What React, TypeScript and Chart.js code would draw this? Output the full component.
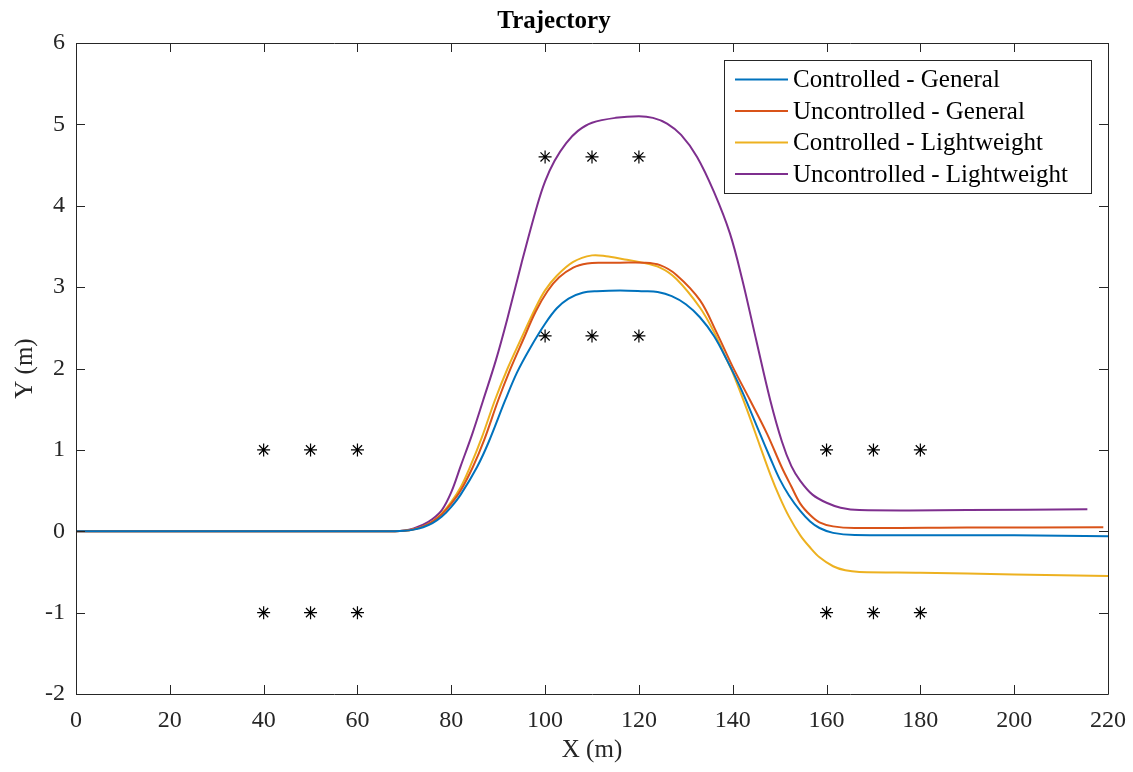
import React, { useEffect, useRef } from "react";
import { Chart, registerables } from "chart.js";

Chart.register(...registerables);

// Controlled - General
const cgX = [0, 68, 70, 72, 74, 76, 78, 80, 82, 85.5, 88, 91.5, 94, 96.8, 100, 102.5, 105, 108, 111, 116, 121, 124, 127, 130, 133, 136, 138.8, 142, 145.8, 148, 150, 152, 154.4, 156.5, 158.5, 161.4, 166, 200, 220];
const cgY = [0, 0, 0.005, 0.02, 0.05, 0.1, 0.18, 0.3, 0.45, 0.79, 1.1, 1.61, 1.95, 2.25, 2.55, 2.74, 2.86, 2.93, 2.95, 2.96, 2.95, 2.94, 2.89, 2.79, 2.63, 2.4, 2.1, 1.72, 1.2, 0.9, 0.64, 0.44, 0.25, 0.12, 0.04, -0.02, -0.045, -0.05, -0.06];

// Uncontrolled - General
const ugX = [0, 68, 70, 72, 74, 76, 78, 80, 82, 84.6, 87, 90, 92.5, 95.3, 98, 100.5, 103, 106, 109, 112, 116, 121, 124.5, 128, 133, 136.5, 140, 143.7, 147.3, 150.5, 152.5, 154.4, 156.5, 158.5, 161.4, 166, 190, 219];
const ugY = [0, 0, 0.005, 0.025, 0.06, 0.12, 0.21, 0.34, 0.5, 0.79, 1.12, 1.61, 1.98, 2.35, 2.7, 2.95, 3.12, 3.24, 3.29, 3.3, 3.3, 3.3, 3.27, 3.15, 2.84, 2.45, 2.02, 1.61, 1.2, 0.78, 0.55, 0.34, 0.2, 0.11, 0.06, 0.04, 0.045, 0.05];

// Controlled - Lightweight
const clX = [0, 68, 70, 72, 74, 76, 78, 80, 82, 84, 86.5, 89.3, 92, 94.6, 98, 100, 102.5, 106, 110, 113, 117, 120, 124.5, 128, 133, 136, 138.8, 140, 143, 145.8, 148, 150, 152, 154.4, 156.5, 158.5, 161.4, 164, 167, 180, 200, 220];
const clY = [0, 0, 0.005, 0.025, 0.06, 0.12, 0.22, 0.36, 0.54, 0.79, 1.15, 1.61, 2.0, 2.33, 2.75, 2.96, 3.14, 3.31, 3.39, 3.38, 3.34, 3.31, 3.24, 3.1, 2.75, 2.45, 2.1, 1.95, 1.5, 1.05, 0.7, 0.42, 0.18, -0.05, -0.2, -0.32, -0.43, -0.48, -0.5, -0.51, -0.53, -0.55];

// Uncontrolled - Lightweight
const ulX = [0, 68, 70, 72, 74, 76, 78, 80, 82, 84.5, 86.8, 89.5, 91.9, 95, 98.3, 100, 102, 104.5, 107, 110, 115, 120, 123, 126, 129, 132.4, 136, 139.4, 142, 145, 148, 150.5, 152.5, 154.4, 157, 160, 163, 167, 190, 215.6];
const ulY = [0, 0, 0.008, 0.035, 0.08, 0.15, 0.26, 0.48, 0.8, 1.2, 1.61, 2.1, 2.6, 3.3, 4.0, 4.3, 4.55, 4.77, 4.92, 5.02, 5.08, 5.1, 5.08, 5.01, 4.87, 4.6, 4.17, 3.66, 3.1, 2.35, 1.61, 1.1, 0.8, 0.62, 0.45, 0.35, 0.29, 0.26, 0.26, 0.27];

// Obstacle markers (*)
const obsX = [40, 50, 60, 40, 50, 60, 100, 110, 120, 100, 110, 120, 160, 170, 180, 160, 170, 180];
const obsY = [1, 1, 1, -1, -1, -1, 4.6, 4.6, 4.6, 2.4, 2.4, 2.4, 1, 1, 1, -1, -1, -1];

const seriesNames = [
  "Controlled - General",
  "Uncontrolled - General",
  "Controlled - Lightweight",
  "Uncontrolled - Lightweight",
];
const seriesColors = ["#0072BD", "#D95319", "#EDB120", "#7E2F8E"];

const xTicks = [0, 20, 40, 60, 80, 100, 120, 140, 160, 180, 200, 220];
const yTicks = [-2, -1, 0, 1, 2, 3, 4, 5, 6];

const FONT = "'Liberation Serif', 'Times New Roman', serif";
const AXIS_COLOR = "#262626";

export default function App() {
  const ref = useRef<HTMLCanvasElement>(null);

  useEffect(() => {
    if (!ref.current) return;
    const toPts = (xs: number[], ys: number[]) => xs.map((x, i) => ({ x, y: ys[i] }));
    const seriesX = [cgX, ugX, clX, ulX];
    const seriesY = [cgY, ugY, clY, ulY];

    const boxPlugin = {
      id: "matlabBox",
      afterDraw(chart: any) {
        const { ctx, chartArea } = chart;
        const { left, right, top, bottom } = chartArea;
        const xs = chart.scales.x;
        const ys = chart.scales.y;
        const tl = 9;
        ctx.save();
        ctx.strokeStyle = AXIS_COLOR;
        ctx.lineWidth = 1;
        ctx.beginPath();
        ctx.rect(Math.round(left) + 0.5, Math.round(top) + 0.5, Math.round(right - left), Math.round(bottom - top));
        ctx.stroke();
        ctx.beginPath();
        for (const t of xTicks) {
          const px = Math.round(xs.getPixelForValue(t)) + 0.5;
          ctx.moveTo(px, bottom);
          ctx.lineTo(px, bottom - tl);
          ctx.moveTo(px, top);
          ctx.lineTo(px, top + tl);
        }
        for (const t of yTicks) {
          const py = Math.round(ys.getPixelForValue(t)) + 0.5;
          ctx.moveTo(left, py);
          ctx.lineTo(left + tl, py);
          ctx.moveTo(right, py);
          ctx.lineTo(right - tl, py);
        }
        ctx.stroke();

        // legend
        const lx = 724, ly = 60, lw = 367, lh = 133;
        ctx.fillStyle = "#ffffff";
        ctx.fillRect(lx, ly, lw, lh);
        ctx.strokeStyle = AXIS_COLOR;
        ctx.strokeRect(lx + 0.5, ly + 0.5, lw, lh);
        ctx.font = `25px ${FONT}`;
        ctx.textBaseline = "middle";
        ctx.textAlign = "left";
        const rowY = [79.5, 111, 142.5, 174];
        seriesNames.forEach((name, i) => {
          ctx.strokeStyle = seriesColors[i];
          ctx.lineWidth = 2;
          ctx.beginPath();
          ctx.moveTo(735, rowY[i]);
          ctx.lineTo(788, rowY[i]);
          ctx.stroke();
          ctx.fillStyle = "#000000";
          ctx.fillText(name, 793, rowY[i] + 1);
        });
        ctx.restore();
      },
    };

    const datasets: any[] = seriesNames.map((name, i) => ({
      label: name,
      data: toPts(seriesX[i], seriesY[i]),
      showLine: true,
      borderColor: seriesColors[i],
      backgroundColor: seriesColors[i],
      borderWidth: 2,
      pointRadius: 0,
      pointHoverRadius: 0,
      tension: 0.35,
      fill: false,
    }));
    datasets.push({
      label: "Obstacles",
      data: toPts(obsX, obsY),
      showLine: false,
      pointStyle: "star",
      pointRadius: 6.5,
      borderColor: "#000000",
      backgroundColor: "#000000",
      borderWidth: 1.2,
    });

    const chart = new Chart(ref.current, {
      type: "scatter",
      data: { datasets },
      options: {
        animation: false,
        responsive: true,
        maintainAspectRatio: false,
        layout: { padding: { left: 0, right: 25, top: 0, bottom: 0 } },
        plugins: {
          legend: { display: false },
          tooltip: { enabled: false },
          title: {
            display: true,
            text: "Trajectory",
            color: "#000000",
            font: { family: FONT, size: 25, weight: "bold", lineHeight: 1.2 },
            padding: { top: 7, bottom: 6 },
          },
        },
        scales: {
          x: {
            type: "linear",
            min: 0,
            max: 220,
            afterFit(scale: any) {
              scale.height = 78;
              scale.paddingLeft = 0;
              scale.paddingRight = 0;
            },
            afterBuildTicks(scale: any) {
              scale.ticks = xTicks.map((v) => ({ value: v }));
            },
            grid: { display: false, drawTicks: false },
            border: { display: false },
            ticks: {
              color: AXIS_COLOR,
              font: { family: FONT, size: 24 },
              padding: 12,
              maxRotation: 0,
              autoSkip: false,
            },
            title: {
              display: true,
              text: "X (m)",
              color: AXIS_COLOR,
              font: { family: FONT, size: 25, lineHeight: 1.2 },
              padding: { top: 0, bottom: 7 },
            },
          },
          y: {
            type: "linear",
            min: -2,
            max: 6,
            afterFit(scale: any) {
              scale.width = 76;
              scale.paddingTop = 0;
              scale.paddingBottom = 0;
            },
            afterBuildTicks(scale: any) {
              scale.ticks = yTicks.map((v) => ({ value: v }));
            },
            grid: { display: false, drawTicks: false },
            border: { display: false },
            ticks: {
              color: AXIS_COLOR,
              font: { family: FONT, size: 24 },
              padding: 11,
              autoSkip: false,
            },
            title: {
              display: true,
              text: "Y (m)",
              color: AXIS_COLOR,
              font: { family: FONT, size: 25, lineHeight: 1.2 },
              padding: { top: 10, bottom: 0 },
            },
          },
        },
      },
      plugins: [boxPlugin],
    });
    return () => chart.destroy();
  }, []);

  return (
    <div style={{ position: "absolute", left: 0, top: 0, width: 1133, height: 772, background: "#ffffff" }}>
      <canvas ref={ref} />
    </div>
  );
}
